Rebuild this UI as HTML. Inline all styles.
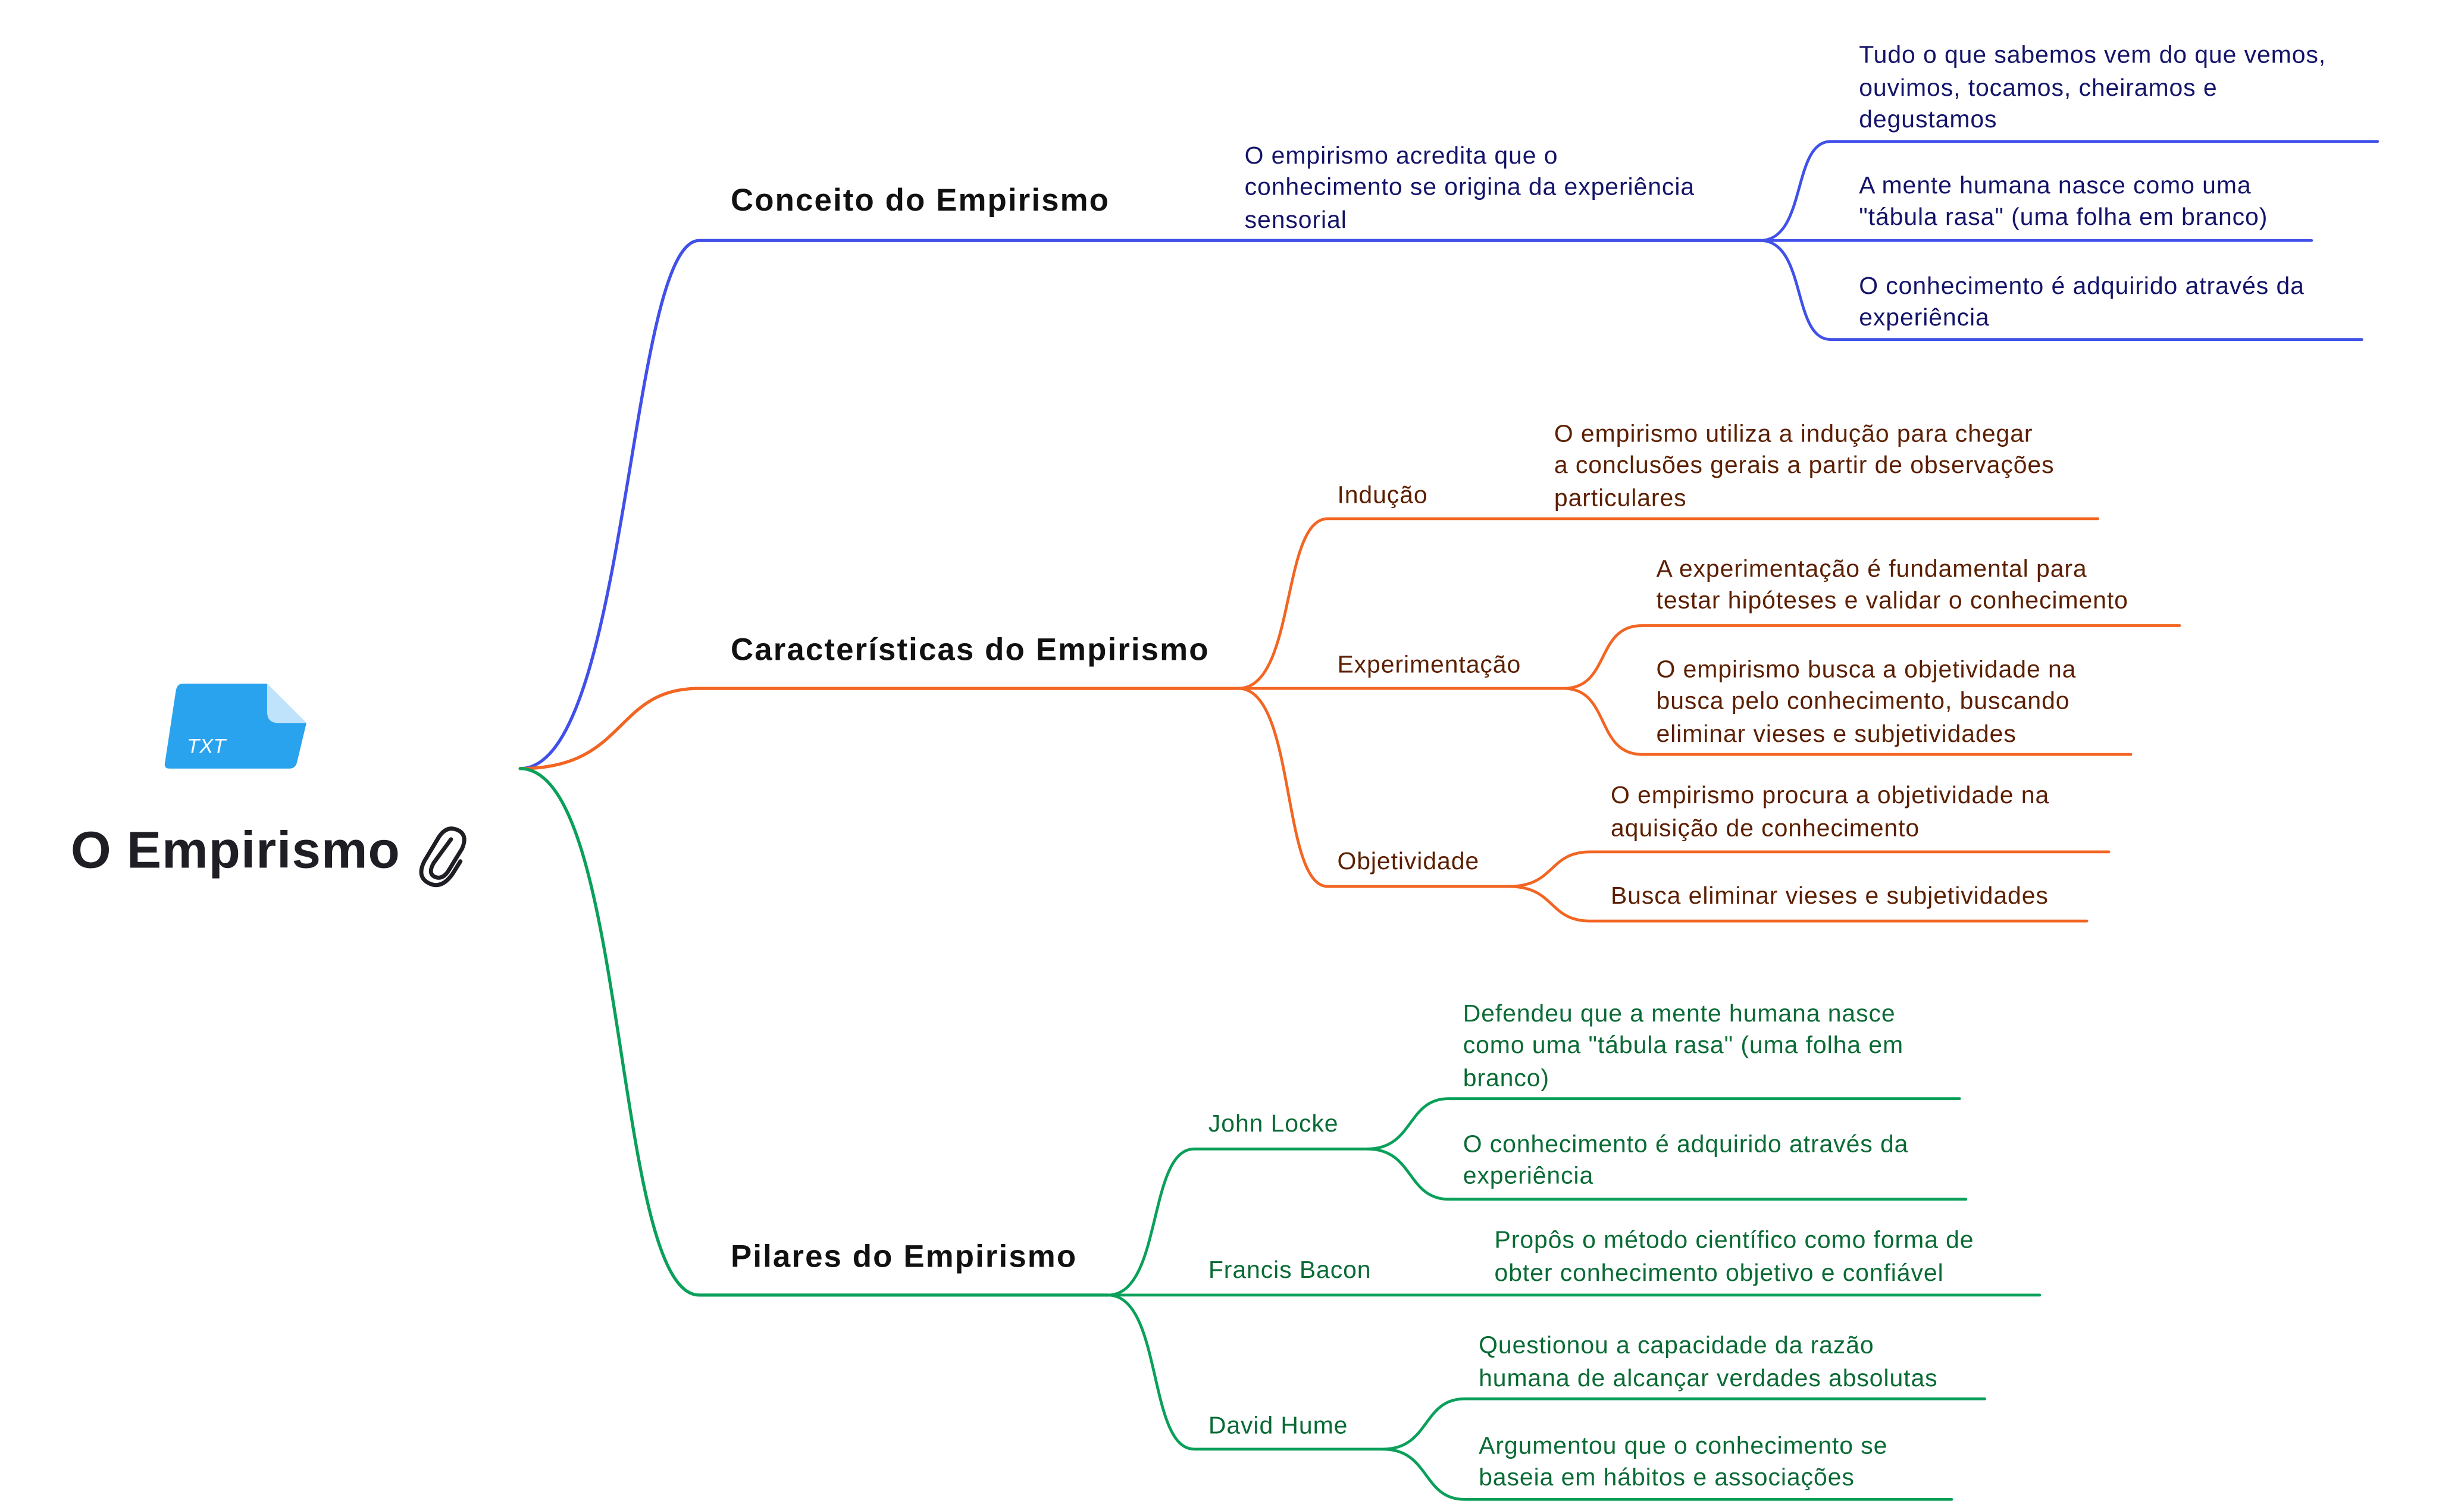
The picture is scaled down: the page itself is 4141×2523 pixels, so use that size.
<!DOCTYPE html>
<html><head><meta charset="utf-8"><style>html,body{margin:0;padding:0;background:#fff;width:4141px;height:2523px;overflow:hidden}svg{display:block}text{font-family:"Liberation Sans",sans-serif}</style></head>
<body>
<svg width="4141" height="2523" viewBox="0 0 1568 955" preserveAspectRatio="none" xmlns="http://www.w3.org/2000/svg">
<g fill="none" stroke-linecap="round">
<path d="M331 489 C400 489 400 153 445 153 L1120 153" stroke="#4050e8" stroke-width="2"/>
<path d="M331 489 C400 489 390 438 445 438 L788 438" stroke="#f26522" stroke-width="2"/>
<path d="M331 489 C400 489 390 824 445 824 L705 824" stroke="#0aa05a" stroke-width="2"/>
<g stroke="#4050e8" stroke-width="1.8">
<path d="M1120 153 C1150 153 1140 90 1165 90 L1513 90"/>
<path d="M1120 153 L1471 153"/>
<path d="M1120 153 C1150 153 1140 216 1165 216 L1503 216"/>
</g>
<g stroke="#f26522" stroke-width="1.8">
<path d="M788 438 C825 438 815 330 845 330 L1335 330"/>
<path d="M788 438 L995 438"/>
<path d="M788 438 C825 438 815 564 845 564 L960 564"/>
<path d="M995 438 C1025 438 1015 398 1045 398 L1387 398"/>
<path d="M995 438 C1025 438 1015 480 1045 480 L1356 480"/>
<path d="M960 564 C990 564 985 542 1012 542 L1342 542"/>
<path d="M960 564 C990 564 985 586 1012 586 L1328 586"/>
</g>
<g stroke="#0aa05a" stroke-width="1.8">
<path d="M705 824 C740 824 730 731 760 731 L870 731"/>
<path d="M705 824 L1298 824"/>
<path d="M705 824 C740 824 730 922 760 922 L880 922"/>
<path d="M870 731 C900 731 895 699 922 699 L1247 699"/>
<path d="M870 731 C900 731 895 763 922 763 L1251 763"/>
<path d="M880 922 C910 922 905 890 932 890 L1263 890"/>
<path d="M880 922 C910 922 905 954 932 954 L1242 954"/>
</g>
<path d="M287 534 L276 549 Q272 556 277 558 Q282 560 286 553 L294 540 Q298 531 291 528 Q284 525 279 533 L270 548 Q265 558 273 562 Q281 566 288 556 L293 548" stroke="#1e1e24" stroke-width="2.6"/>
</g>
<path d="M116 435 L170 435 L195 460 L189 485 Q188 489 184 489 L108 489 Q104 489 105 485 L112 439 Q113 435 116 435 Z" fill="#2aa3ef"/>
<path d="M170 435 L195 460 L177 460 Q170 460 170 453 Z" fill="#bfe3fb"/>
<text x="119" y="479" font-size="13" font-style="italic" fill="#fff">TXT</text>
<text x="45" y="552" font-size="33" font-weight="bold" fill="#1e1e24" letter-spacing="0.4">O Empirismo</text>
<g font-size="20" font-weight="bold" fill="#111" letter-spacing="0.8">
<text x="465" y="134">Conceito do Empirismo</text>
<text x="465" y="420">Características do Empirismo</text>
<text x="465" y="806">Pilares do Empirismo</text>
</g>
<g font-size="15.5" fill="#14146a" letter-spacing="0.35">
<text x="792" y="104">O empirismo acredita que o</text>
<text x="792" y="124">conhecimento se origina da experiência</text>
<text x="792" y="145">sensorial</text>
<text x="1183" y="40">Tudo o que sabemos vem do que vemos,</text>
<text x="1183" y="61">ouvimos, tocamos, cheiramos e</text>
<text x="1183" y="81">degustamos</text>
<text x="1183" y="123">A mente humana nasce como uma</text>
<text x="1183" y="143">"tábula rasa" (uma folha em branco)</text>
<text x="1183" y="187">O conhecimento é adquirido através da</text>
<text x="1183" y="207">experiência</text>
</g>
<g font-size="15.5" fill="#5c1f00" letter-spacing="0.35">
<text x="851" y="320">Indução</text>
<text x="851" y="428">Experimentação</text>
<text x="851" y="553">Objetividade</text>
<text x="989" y="281">O empirismo utiliza a indução para chegar</text>
<text x="989" y="301">a conclusões gerais a partir de observações</text>
<text x="989" y="322">particulares</text>
<text x="1054" y="367">A experimentação é fundamental para</text>
<text x="1054" y="387">testar hipóteses e validar o conhecimento</text>
<text x="1054" y="431">O empirismo busca a objetividade na</text>
<text x="1054" y="451">busca pelo conhecimento, buscando</text>
<text x="1054" y="472">eliminar vieses e subjetividades</text>
<text x="1025" y="511">O empirismo procura a objetividade na</text>
<text x="1025" y="532">aquisição de conhecimento</text>
<text x="1025" y="575">Busca eliminar vieses e subjetividades</text>
</g>
<g font-size="15.5" fill="#0a6b35" letter-spacing="0.35">
<text x="769" y="720">John Locke</text>
<text x="769" y="813">Francis Bacon</text>
<text x="769" y="912">David Hume</text>
<text x="931" y="650">Defendeu que a mente humana nasce</text>
<text x="931" y="670">como uma "tábula rasa" (uma folha em</text>
<text x="931" y="691">branco)</text>
<text x="931" y="733">O conhecimento é adquirido através da</text>
<text x="931" y="753">experiência</text>
<text x="951" y="794">Propôs o método científico como forma de</text>
<text x="951" y="815">obter conhecimento objetivo e confiável</text>
<text x="941" y="861">Questionou a capacidade da razão</text>
<text x="941" y="882">humana de alcançar verdades absolutas</text>
<text x="941" y="925">Argumentou que o conhecimento se</text>
<text x="941" y="945">baseia em hábitos e associações</text>
</g>
</svg>
</body></html>
